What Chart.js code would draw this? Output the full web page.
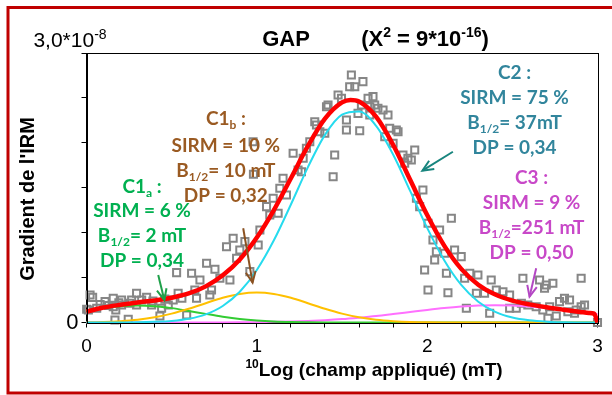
<!DOCTYPE html>
<html>
<head>
<meta charset="utf-8">
<script src="https://cdn.jsdelivr.net/npm/chart.js@4.4.1/dist/chart.umd.min.js"></script>
<style>
  html, body { margin: 0; padding: 0; background: #fff; }
  #wrap { width: 612px; height: 395px; }
</style>
</head>
<body>
<div id="wrap"><canvas id="chart" width="612" height="395"></canvas></div>
<script>
// x : log10 du champ appliqué (mT) ; y : gradient de l'IRM en unités de 1e-8
const logField = [
    0.001, 0.011, 0.021, 0.036, 0.060, 0.080, 0.109, 0.130, 0.157, 0.157,
    0.167, 0.172, 0.190, 0.206, 0.206, 0.245, 0.255, 0.265, 0.294, 0.294,
    0.324, 0.353, 0.382, 0.390, 0.431, 0.441, 0.460, 0.480, 0.509, 0.529,
    0.538, 0.560, 0.588, 0.617, 0.636, 0.646, 0.666, 0.705, 0.724, 0.734,
    0.754, 0.783, 0.822, 0.842, 0.861, 0.881, 0.900, 0.930, 0.959, 0.978,
    0.980, 1.008, 1.018, 1.057, 1.076, 1.096, 1.125, 1.135, 1.154, 1.174,
    1.213, 1.242, 1.262, 1.272, 1.291, 1.311, 1.340, 1.350, 1.370, 1.399,
    1.409, 1.418, 1.448, 1.457, 1.477, 1.497, 1.526, 1.526, 1.545, 1.555,
    1.575, 1.594, 1.604, 1.614, 1.623, 1.653, 1.663, 1.663, 1.682, 1.692,
    1.711, 1.741, 1.751, 1.770, 1.780, 1.800, 1.819, 1.829, 1.858, 1.868,
    1.887, 1.907, 1.927, 1.937, 1.956, 1.975, 1.985, 2.005, 2.005, 2.034,
    2.044, 2.054, 2.073, 2.103, 2.113, 2.122, 2.142, 2.161, 2.200, 2.220,
    2.230, 2.250, 2.289, 2.298, 2.337, 2.367, 2.376, 2.406, 2.445, 2.484,
    2.484, 2.523, 2.553, 2.562, 2.591, 2.640, 2.660, 2.679, 2.689, 2.699,
    2.709, 2.719, 2.738, 2.758, 2.777, 2.806, 2.826, 2.836, 2.865, 2.875,
    2.904, 2.904, 2.924, 3.000
];
const gradient = [
    0.147, 0.139, 0.306, 0.280, 0.158, 0.200, 0.232, 0.190, 0.270, 0.176,
    0.028, 0.139, 0.220, 0.250, 0.195, 0.036, 0.214, 0.250, 0.325, 0.195,
    0.250, 0.280, 0.195, 0.240, 0.072, 0.158, 0.260, 0.195, 0.250, 0.555,
    0.325, 0.270, 0.083, 0.548, 0.362, 0.270, 0.473, 0.659, 0.306, 0.362,
    0.592, 0.492, 0.844, 0.473, 0.937, 0.715, 0.807, 0.900, 0.566, 2.013,
    1.650, 0.863, 1.030, 1.290, 1.197, 1.383, 1.216, 1.494, 1.605, 1.419,
    1.884, 1.698, 1.679, 1.828, 1.939, 2.013, 2.235, 2.199, 2.124, 2.106,
    2.402, 2.421, 1.623, 1.865, 2.532, 2.495, 2.254, 2.143, 2.625, 2.755,
    2.625, 2.328, 2.135, 2.421, 2.681, 2.495, 2.402, 2.310, 2.514, 2.421,
    2.384, 2.365, 2.068, 2.310, 2.162, 1.995, 2.143, 2.124, 1.865, 1.772,
    1.828, 1.809, 1.920, 1.383, 1.290, 1.475, 0.584, 1.104, 0.362, 0.918,
    0.696, 0.788, 1.030, 0.770, 0.548, 0.332, 1.160, 0.807, 0.733, 0.492,
    0.158, 0.548, 0.325, 0.529, 0.325, 0.102, 0.473, 0.362, 0.343, 0.306,
    0.158, 0.158, 0.214, 0.492, 0.195, 0.176, 0.473, 0.139, 0.381, 0.417,
    0.047, 0.176, 0.436, 0.072, 0.232, 0.270, 0.120, 0.250, 0.102, 0.139,
    0.176, 0.492, 0.195, 0.000
];

// composantes, x = 0 ; 0,1 ; ... ; 3
const curveX = [
    0.0, 0.1, 0.2, 0.3, 0.4, 0.5, 0.6, 0.7, 0.8, 0.9, 1.0,
    1.1, 1.2, 1.3, 1.4, 1.5, 1.6, 1.7, 1.8, 1.9, 2.0,
    2.1, 2.2, 2.3, 2.4, 2.5, 2.6, 2.7, 2.8, 2.9, 3.0
];
const c1a = [
    0.128, 0.160, 0.182, 0.190, 0.182, 0.160, 0.129, 0.096, 0.065, 0.040, 0.023,
    0.012, 0.006, 0.003, 0.001, 0, 0, 0, 0, 0, 0,
    0, 0, 0, 0, 0, 0, 0, 0, 0, 0
];
const c1b = [
    0.003, 0.006, 0.015, 0.031, 0.058, 0.099, 0.153, 0.215, 0.275, 0.318, 0.334,
    0.318, 0.275, 0.215, 0.153, 0.099, 0.058, 0.031, 0.015, 0.006, 0.003,
    0.001, 0, 0, 0, 0, 0, 0, 0, 0, 0
];
const c2 = [
    0, 0, 0.001, 0.002, 0.007, 0.017, 0.041, 0.091, 0.184, 0.342, 0.585,
    0.915, 1.314, 1.730, 2.089, 2.313, 2.350, 2.189, 1.870, 1.465, 1.053,
    0.694, 0.419, 0.232, 0.118, 0.055, 0.024, 0.009, 0.003, 0.001, 0
];
const c3 = [
    0, 0, 0, 0, 0, 0, 0, 0.001, 0.001, 0.002, 0.004,
    0.007, 0.011, 0.017, 0.026, 0.038, 0.054, 0.072, 0.094, 0.117, 0.140,
    0.161, 0.178, 0.189, 0.193, 0.189, 0.178, 0.161, 0.140, 0.117, 0.094
];
// courbe totale (rouge)
const fitX = [
    0.0, 0.1, 0.2, 0.3, 0.4, 0.5, 0.6, 0.7, 0.8, 0.9, 1.0,
    1.1, 1.2, 1.3, 1.4, 1.5, 1.55, 1.6, 1.7, 1.8, 1.9, 2.0,
    2.1, 2.2, 2.3, 2.4, 2.5, 2.6, 2.7, 2.8, 2.9, 2.95, 2.98, 3.0
];
const fitY = [
    0.120, 0.167, 0.197, 0.223, 0.246, 0.276, 0.323, 0.402, 0.525, 0.702, 0.946,
    1.252, 1.606, 1.965, 2.269, 2.450, 2.478, 2.461, 2.292, 1.979, 1.588, 1.196,
    0.856, 0.597, 0.421, 0.311, 0.244, 0.202, 0.170, 0.143, 0.118, 0.106, 0.098, 0.0
];

const xLabels = [0, 1, 2, 3];
const yLabels = [0];

// annotations (centres en unités de données)
const notes = [
    { color: '#00b050', x: 0.326, y: [1.52, 1.252, 0.974, 0.696],
      lines: [[['C1', 0], ['a', 1], [' :', 0]], [['SIRM = 6 %', 0]], [['B', 0], ['1/2', 1], ['= 2 mT', 0]], [['DP = 0,34', 0]]] },
    { color: '#9a5a22', x: 0.818, y: [2.273, 1.976, 1.698, 1.419],
      lines: [[['C1', 0], ['b', 1], [' :', 0]], [['SIRM = 10 %', 0]], [['B', 0], ['1/2', 1], ['= 10 mT', 0]], [['DP = 0,32', 0]]] },
    { color: '#31859c', x: 2.513, y: [2.792, 2.514, 2.235, 1.957],
      lines: [[['C2 :', 0]], [['SIRM = 75 %', 0]], [['B', 0], ['1/2', 1], ['= 37mT', 0]], [['DP = 0,34', 0]]] },
    { color: '#c848c8', x: 2.613, y: [1.623, 1.345, 1.066, 0.788],
      lines: [[['C3 :', 0]], [['SIRM = 9 %', 0]], [['B', 0], ['1/2', 1], ['=251 mT', 0]], [['DP = 0,50', 0]]] },
];
const arrows = [
    { color: '#1fa04a', from: [0.421, 0.529], to: [0.457, 0.25] },
    { color: '#8b5222', from: [0.92, 1.049], to: [0.975, 0.443] },
    { color: '#18857e', from: [2.151, 1.901], to: [1.972, 1.69] },
    { color: '#b447c4', from: [2.64, 0.603], to: [2.601, 0.287] },
];

const pts = (xs, ys) => xs.map((x, i) => ({ x, y: ys[i] }));

function drawRich(ctx, parts, x, y, size, family, weight, sx) {
    const fontFor = m => `${weight} ${m ? Math.round(size * 0.65) : size}px ${family}`;
    let w = 0;
    parts.forEach(([t, m]) => { ctx.font = fontFor(m); w += ctx.measureText(t).width; });
    ctx.save();
    ctx.translate(x, y);
    ctx.scale(sx || 1, 1);
    ctx.textAlign = 'left';
    ctx.textBaseline = 'alphabetic';
    let cx = -w / 2;
    parts.forEach(([t, m]) => {
        ctx.font = fontFor(m);
        const dy = m === 1 ? size * 0.22 : m === 2 ? -size * 0.4 : 0;
        ctx.fillText(t, cx, dy);
        cx += ctx.measureText(t).width;
    });
    ctx.restore();
}

function drawArrow(ctx, x1, y1, x2, y2, color) {
    ctx.save();
    ctx.strokeStyle = color;
    ctx.lineWidth = 2;
    ctx.beginPath();
    ctx.moveTo(x1, y1);
    ctx.lineTo(x2, y2);
    ctx.stroke();
    const a = Math.atan2(y2 - y1, x2 - x1), L = 12, w = 0.42;
    ctx.beginPath();
    ctx.moveTo(x2 - L * Math.cos(a - w), y2 - L * Math.sin(a - w));
    ctx.lineTo(x2, y2);
    ctx.lineTo(x2 - L * Math.cos(a + w), y2 - L * Math.sin(a + w));
    ctx.stroke();
    ctx.restore();
}

const decor = {
    id: 'decor',
    afterDraw(chart) {
        const { ctx, chartArea: a, scales: { x, y } } = chart;
        ctx.save();
        // cadre du graphique
        ctx.strokeStyle = '#000';
        ctx.lineWidth = 1;
        ctx.strokeRect(Math.round(a.left) + 0.5, Math.round(a.top) + 0.5, Math.round(a.right - a.left), Math.round(a.bottom - a.top));
        // cadre rouge
        ctx.strokeStyle = '#c00000';
        ctx.lineWidth = 3;
        ctx.strokeRect(8, 7.5, 700, 385.5);

        ctx.fillStyle = '#000';
        const arial = '"Liberation Sans", Arial, sans-serif';
        drawRich(ctx, [['GAP', 0]], 286, 46, 22, arial, 'bold');
        drawRich(ctx, [['(Χ', 0], ['2', 2], [' = 9*10', 0], ['-16', 2], [')', 0]], 425, 46, 22, arial, 'bold');
        drawRich(ctx, [['3,0*10', 0], ['-8', 2]], 70, 47, 21, arial, '');
        drawRich(ctx, [['10', 2], ['Log (champ appliqué) (mT)', 0]], 374, 376, 19, arial, 'bold');
        ctx.save();
        ctx.translate(34, 199);
        ctx.rotate(-Math.PI / 2);
        drawRich(ctx, [["Gradient de l'IRM", 0]], 0, 0, 20, arial, 'bold');
        ctx.restore();

        const lato = 'Lato, "Open Sans", sans-serif';
        notes.forEach(n => {
            ctx.fillStyle = n.color;
            n.lines.forEach((ln, i) => {
                drawRich(ctx, ln, x.getPixelForValue(n.x), y.getPixelForValue(n.y[i]) + 7, 19, lato, 'bold');
            });
        });
        arrows.forEach(ar => drawArrow(ctx,
            x.getPixelForValue(ar.from[0]), y.getPixelForValue(ar.from[1]),
            x.getPixelForValue(ar.to[0]), y.getPixelForValue(ar.to[1]), ar.color));
        ctx.restore();
    }
};

const curve = (label, xs, ys, color, width) => ({
    label, data: pts(xs, ys), showLine: true, borderColor: color, backgroundColor: color,
    borderWidth: width, pointRadius: 0, cubicInterpolationMode: 'monotone', clip: false,
});

new Chart(document.getElementById('chart'), {
    type: 'scatter',
    data: {
        datasets: [
            curve('Total', fitX, fitY, '#ff0000', 4.5),
            curve('C2', curveX, c2, '#26dbee', 2),
            curve('C1b', curveX, c1b, '#ffc000', 2),
            curve('C1a', curveX, c1a, '#33cc33', 2),
            curve('C3', curveX, c3, '#ff70ff', 2),
            {
                label: 'Mesures', data: pts(logField, gradient), showLine: false,
                pointStyle: 'rect', pointRadius: 5, borderWidth: 2,
                borderColor: '#868686', backgroundColor: 'rgba(255,255,255,0)', clip: false,
            },
        ],
    },
    options: {
        responsive: false,
        animation: false,
        events: [],
        devicePixelRatio: 1,
        layout: { padding: { top: 53, right: 14.5, left: 0, bottom: 0 } },
        plugins: { legend: { display: false }, tooltip: { enabled: false } },
        scales: {
            x: {
                type: 'linear', min: 0, max: 3,
                afterFit: s => { s.height = 72.5; },
                border: { color: '#000', width: 1 },
                grid: { drawOnChartArea: false, drawTicks: true, tickLength: 5, color: '#000' },
                ticks: {
                    stepSize: 0.2, autoSkip: false, maxRotation: 0, padding: 8,
                    color: '#000', font: { family: '"Liberation Sans", Arial', size: 19 },
                    callback: v => xLabels.find(l => Math.abs(l - v) < 1e-6) !== undefined ? String(Math.round(v)) : '',
                },
            },
            y: {
                type: 'linear', min: 0, max: 3,
                afterFit: s => { s.width = 86.5; },
                border: { color: '#000', width: 1 },
                grid: { drawOnChartArea: false, drawTicks: true, tickLength: 5, color: '#000' },
                ticks: {
                    stepSize: 0.5, autoSkip: false, padding: 3,
                    color: '#000', font: { family: '"Liberation Sans", Arial', size: 22 },
                    callback: v => yLabels.includes(v) ? String(v) : '',
                },
            },
        },
    },
    plugins: [decor],
});
</script>
</body>
</html>
